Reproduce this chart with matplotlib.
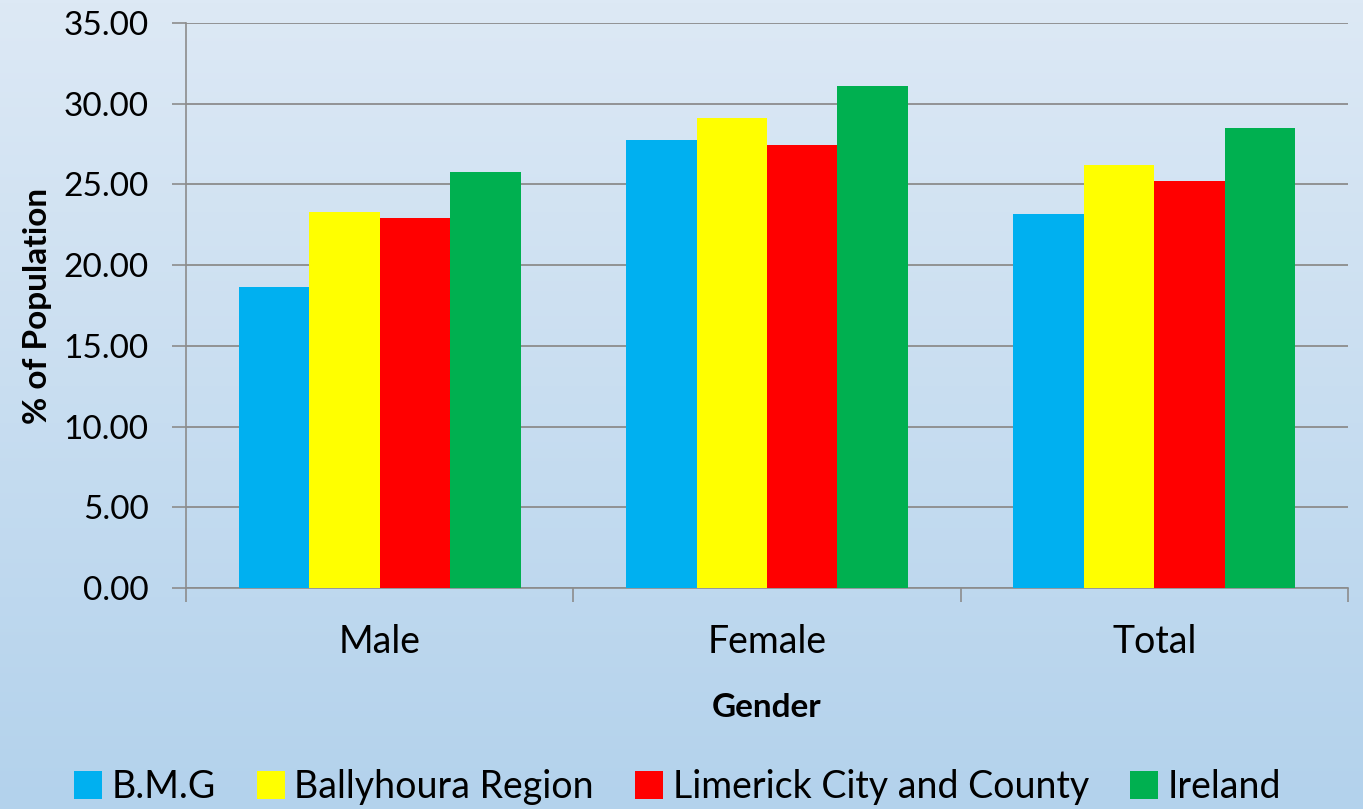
"""
Clustered bar chart: share of population by gender and area.
"""
import matplotlib.pyplot as plt
import numpy as np
from matplotlib.colors import LinearSegmentedColormap

categories = ["Male", "Female", "Total"]
series_names = ["B.M.G", "Ballyhoura Region", "Limerick City and County", "Ireland"]
bmg = [18.65, 27.74, 23.15]
ballyhoura = [23.31, 29.12, 26.19]
limerick = [22.90, 27.43, 25.20]
ireland = [25.77, 31.10, 28.48]
colors = ["#00b0f0", "#ffff00", "#ff0000", "#00b050"]
y_ticks = [0, 5, 10, 15, 20, 25, 30, 35]

plt.rcParams["font.family"] = ["Lato", "DejaVu Sans"]

fig = plt.figure(figsize=(13.63, 8.09), dpi=100)

# background gradient over the whole figure
bg = fig.add_axes([0, 0, 1, 1], zorder=-10)
grad = np.linspace(0, 1, 256).reshape(-1, 1)
cmap = LinearSegmentedColormap.from_list("bg", ["#dde9f5", "#b3d2ec"])
bg.imshow(grad, aspect="auto", cmap=cmap, extent=[0, 1, 0, 1], origin="upper")
bg.axis("off")

ax = fig.add_axes([186 / 1363, 1 - 588 / 809, 1162 / 1363, 565 / 809])
ax.patch.set_alpha(0)

values = [bmg, ballyhoura, limerick, ireland]
x = np.arange(len(categories))
width = 0.182
for i, (vals, name, col) in enumerate(zip(values, series_names, colors)):
    ax.bar(x + (i - 1.5) * width, vals, width, color=col, label=name, zorder=3)

ax.set_xlim(-0.5, len(categories) - 0.5)
ax.set_ylim(0, 35)
ax.set_yticks(y_ticks)
ax.set_yticklabels([f"{v:.2f}" for v in y_ticks], fontsize=24)
ax.yaxis.grid(True, color="#8c8c8c", linewidth=1.3, zorder=0)

ax.set_xticks(np.arange(len(categories) + 1) - 0.5)
ax.set_xticklabels([])
ax.set_xticks(x, minor=True)
ax.set_xticklabels(categories, minor=True, fontsize=27)
ax.tick_params(axis="x", which="minor", length=0, pad=26)
ax.tick_params(axis="x", which="major", length=10, color="#8c8c8c", width=1.2)
ax.tick_params(axis="y", length=10, color="#8c8c8c", width=1.2, pad=17)

for side in ["top", "right"]:
    ax.spines[side].set_visible(False)
for side in ["left", "bottom"]:
    ax.spines[side].set_color("#8c8c8c")
    ax.spines[side].set_linewidth(1.2)

ax.set_ylabel("% of Population", fontsize=24, fontweight="bold", labelpad=8)
ax.set_xlabel("Gender", fontsize=24, fontweight="bold", labelpad=24)

fig.legend(loc="center", bbox_to_anchor=(0.497, 1 - 787 / 809), ncol=4,
           frameon=False, fontsize=27, handlelength=0.75, handleheight=0.75,
           handletextpad=0.25, columnspacing=1.1)

fig.savefig("out.png", dpi=100)
